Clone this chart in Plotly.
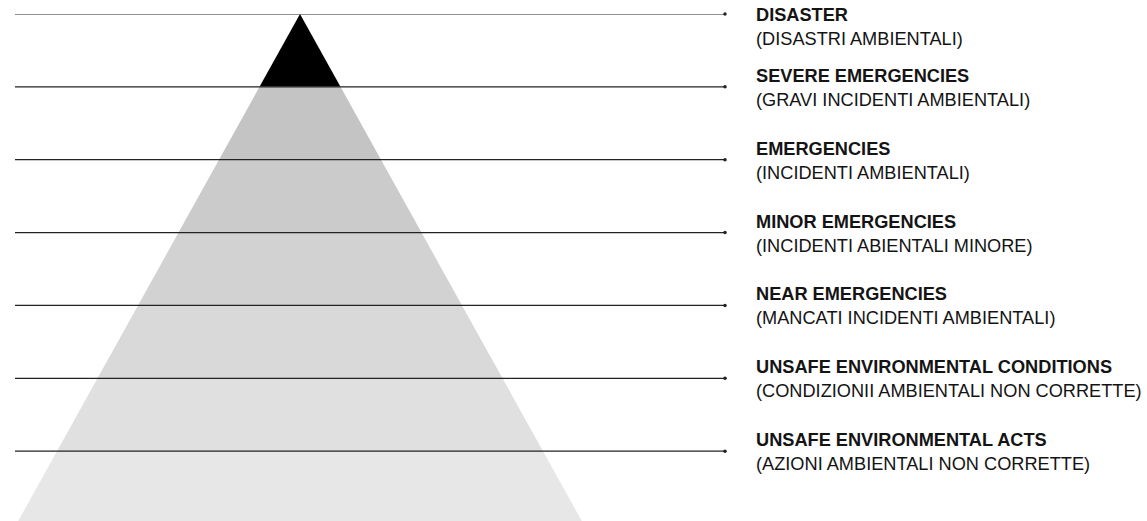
import plotly.graph_objects as go

# ---- data ----
titles = [
    "DISASTER",
    "SEVERE EMERGENCIES",
    "EMERGENCIES",
    "MINOR EMERGENCIES",
    "NEAR EMERGENCIES",
    "UNSAFE ENVIRONMENTAL CONDITIONS",
    "UNSAFE ENVIRONMENTAL ACTS",
]
subtitles = [
    "(DISASTRI AMBIENTALI)",
    "(GRAVI INCIDENTI AMBIENTALI)",
    "(INCIDENTI AMBIENTALI)",
    "(INCIDENTI ABIENTALI MINORE)",
    "(MANCATI INCIDENTI AMBIENTALI)",
    "(CONDIZIONII AMBIENTALI NON CORRETTE)",
    "(AZIONI AMBIENTALI NON CORRETTE)",
]
levels = [0, 1, 2, 3, 4, 5, 6]          # top boundary of each pyramid layer
layer_colors = ["#000000", "#c4c4c4", "#cbcbcb", "#d2d2d2",
                "#d9d9d9", "#e0e0e0", "#e7e7e7"]

# ---- layout constants ----
W, H = 1147, 521
CX = 300            # apex x
HW = 40.5           # half width per level
LINE_X0, LINE_X1 = 15, 725
LABEL_X = 754
LABEL_OFFSET = 0.151  # titles sit slightly above their line
MIN_LABEL = 0.01
PX_PER_LEVEL = 72.86
TOP = 14
FONT = "Liberation Sans"
FS = 18.2

fig = go.Figure()

for lv, col in zip(levels, layer_colors):
    top, bot = lv, lv + 1.2 if lv == levels[-1] else lv + 1
    xs = [CX - HW * top, CX + HW * top, CX + HW * bot, CX - HW * bot, CX - HW * top]
    ys = [top, top, bot, bot, top]
    fig.add_trace(go.Scatter(x=xs, y=ys, fill="toself", fillcolor=col, mode="lines",
                             line=dict(width=0, color=col), hoverinfo="skip",
                             showlegend=False))

for lv in levels:
    fig.add_trace(go.Scatter(x=[LINE_X0, LINE_X1], y=[lv, lv], mode="lines",
                             line=dict(color="#222222", width=1.2),
                             hoverinfo="skip", showlegend=False, cliponaxis=False))
    fig.add_trace(go.Scatter(x=[LINE_X1], y=[lv], mode="markers",
                             marker=dict(color="#222222", size=3.5),
                             hoverinfo="skip", showlegend=False, cliponaxis=False))

annotations = []
for lv, t, s in zip(levels, titles, subtitles):
    y = max(lv - LABEL_OFFSET, MIN_LABEL)
    annotations.append(dict(x=LABEL_X, y=y, xref="x", yref="y", text="<b>" + t + "</b>",
                            showarrow=False, xanchor="left", yanchor="middle",
                            font=dict(family=FONT, size=FS, color="#141414")))
    annotations.append(dict(x=LABEL_X, y=y, xref="x", yref="y", text=s, yshift=-24,
                            showarrow=False, xanchor="left", yanchor="middle",
                            font=dict(family=FONT, size=FS, color="#141414")))

plot_h = H - TOP
fig.update_layout(
    width=W, height=H,
    margin=dict(l=0, r=0, t=TOP, b=0),
    paper_bgcolor="white", plot_bgcolor="white",
    xaxis=dict(range=[0, W], visible=False, fixedrange=True),
    yaxis=dict(range=[plot_h / PX_PER_LEVEL, 0], visible=False, fixedrange=True),
    annotations=annotations,
    showlegend=False,
    hovermode=False,
)

fig.write_html("out.html", config={"displayModeBar": False, "staticPlot": True},
               post_script="document.body.style.margin='0';document.body.style.overflow='hidden';")
